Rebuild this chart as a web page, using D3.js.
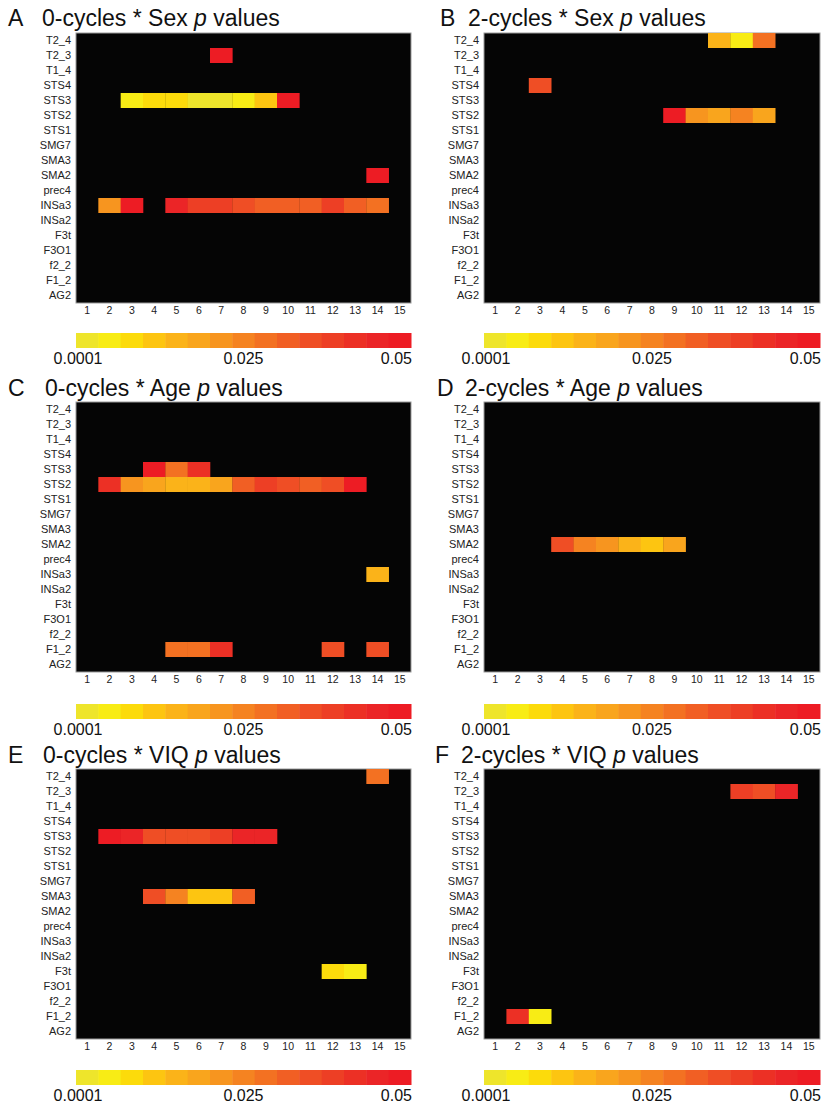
<!DOCTYPE html>
<html><head><meta charset="utf-8">
<script src="https://cdn.jsdelivr.net/npm/d3@7"></script>
<style>
html,body{margin:0;padding:0;background:#fff;}
svg{display:block;font-family:"Liberation Sans",Arial,sans-serif;}
</style>
</head><body>
<svg id="chart" width="824" height="1105"></svg>
<script>
// ---- data ----
const regions = ["T2_4","T2_3","T1_4","STS4","STS3","STS2","STS1","SMG7","SMA3","SMA2","prec4","INSa3","INSa2","F3t","F3O1","f2_2","F1_2","AG2"];
const cycles = [1,2,3,4,5,6,7,8,9,10,11,12,13,14,15];
const pDomain = [0.0001, 0.05];
const colorbarLabels = ["0.0001","0.025","0.05"];
const stepColors = ["#eee52b","#f8ec15","#fcdb0b","#fdc511","#fbb319","#f9a51d","#f7951f","#f58321","#f37122","#f15f24","#ef4e25","#ed3f25","#ec3025","#eb2527","#ed1c24"];

// cells: [region, cycle, p]
const sex0 = [
  ["T2_3",7,0.048],
  ["STS3",3,0.006],["STS3",4,0.008],["STS3",5,0.008],["STS3",6,0.002],["STS3",7,0.002],["STS3",8,0.005],["STS3",9,0.012],["STS3",10,0.048],
  ["SMA2",14,0.048],
  ["INSa3",2,0.022],["INSa3",3,0.048],["INSa3",5,0.046],["INSa3",6,0.039],["INSa3",7,0.038],["INSa3",8,0.035],["INSa3",9,0.032],["INSa3",10,0.031],["INSa3",11,0.032],["INSa3",12,0.039],["INSa3",13,0.032],["INSa3",14,0.030]
];
const sex2 = [
  ["T2_4",11,0.015],["T2_4",12,0.005],["T2_4",13,0.029],
  ["STS4",3,0.035],
  ["STS2",9,0.048],["STS2",10,0.022],["STS2",11,0.019],["STS2",12,0.025],["STS2",13,0.018]
];
const age0 = [
  ["STS3",4,0.048],["STS3",5,0.029],["STS3",6,0.041],
  ["STS2",2,0.042],["STS2",3,0.022],["STS2",4,0.019],["STS2",5,0.015],["STS2",6,0.015],["STS2",7,0.019],["STS2",8,0.032],["STS2",9,0.038],["STS2",10,0.035],["STS2",11,0.032],["STS2",12,0.035],["STS2",13,0.048],
  ["INSa3",14,0.015],
  ["F1_2",5,0.028],["F1_2",6,0.028],["F1_2",7,0.042],["F1_2",12,0.035],["F1_2",14,0.035]
];
const age2 = [
  ["SMA2",4,0.035],["SMA2",5,0.025],["SMA2",6,0.022],["SMA2",7,0.015],["SMA2",8,0.012],["SMA2",9,0.018]
];
const viq0 = [
  ["T2_4",14,0.028],
  ["STS3",2,0.048],["STS3",3,0.044],["STS3",4,0.035],["STS3",5,0.035],["STS3",6,0.035],["STS3",7,0.038],["STS3",8,0.045],["STS3",9,0.045],
  ["SMA3",4,0.035],["SMA3",5,0.025],["SMA3",6,0.012],["SMA3",7,0.012],["SMA3",8,0.032],
  ["F3t",12,0.008],["F3t",13,0.005]
];
const viq2 = [
  ["T2_3",12,0.039],["T2_3",13,0.035],["T2_3",14,0.045],
  ["F1_2",2,0.042],["F1_2",3,0.005]
];

const panelLetters = ["A","B","C","D","E","F"];
const panelCycles = ["0-cycles","2-cycles","0-cycles","2-cycles","0-cycles","2-cycles"];
const panelFactors = ["Sex","Sex","Age","Age","VIQ","VIQ"];
const panelData = [sex0, sex2, age0, age2, viq0, viq2];

// ---- layout ----
const colX = [[76,411],[484,820]];
const rowTop = [33,402,769];
const titleBase = [25.5,396,762.5];
const letterX = [[8,440],[8,437],[8,435]];
const textX = [[42,468],[45,465],[43,461]];
const mapH = 270;
const cbGap = [30,32,31];
const FONT = '"Liberation Sans",Arial,sans-serif';

const svg = d3.select("#chart");
const color = d3.scaleQuantize().domain(pDomain).range(stepColors);

panelData.forEach((cells,i)=>{
  const r = Math.floor(i/2), c = i%2;
  const [x0,x1] = colX[c];
  const y0 = rowTop[r], y1 = y0 + mapH;
  const g = svg.append("g");

  // title
  g.append("text").attr("x", letterX[r][c]).attr("y", titleBase[r]).attr("font-size",23).attr("fill","#111").text(panelLetters[i]);
  const t2 = g.append("text").attr("x", textX[r][c]).attr("y", titleBase[r]).attr("font-size",23).attr("fill","#111");
  t2.append("tspan").text(panelCycles[i] + " * " + panelFactors[i] + " ");
  t2.append("tspan").attr("font-style","italic").text("p");
  t2.append("tspan").text(" values");

  const x = d3.scaleBand().domain(cycles).range([x0,x1]);
  const y = d3.scaleBand().domain(regions).range([y0,y1]);

  g.append("rect").attr("x",x0).attr("y",y0).attr("width",x1-x0).attr("height",y1-y0)
    .attr("fill","#050505").attr("stroke","#9a9a9a").attr("stroke-width",1);

  g.selectAll("rect.cell").data(cells).join("rect").attr("class","cell")
    .attr("x",d=>x(d[1])).attr("y",d=>y(d[0]))
    .attr("width",x.bandwidth()+0.3).attr("height",y.bandwidth())
    .attr("fill",d=>color(d[2]));

  const ay = g.append("g").attr("transform",`translate(${x0},0)`)
    .call(d3.axisLeft(y).tickSize(0).tickPadding(5))
    .attr("font-family",FONT).attr("font-size",11);
  ay.select(".domain").remove();
  ay.selectAll("text").attr("fill","#222");

  const ax = g.append("g").attr("transform",`translate(0,${y1})`)
    .call(d3.axisBottom(x).tickSize(0).tickPadding(4))
    .attr("font-family",FONT).attr("font-size",10.5);
  ax.select(".domain").remove();
  ax.selectAll("text").attr("fill","#222");

  // colorbar
  const cbY = y1 + cbGap[r];
  const cb = d3.scaleBand().domain(d3.range(stepColors.length)).range([x0,x1]);
  g.selectAll("rect.cb").data(stepColors).join("rect").attr("class","cb")
    .attr("x",(d,k)=>cb(k)).attr("y",cbY).attr("width",cb.bandwidth()+0.5).attr("height",15)
    .attr("fill",d=>d);
  const lx = [x0+2, (x0+x1)/2, x1+1];
  const anchors = ["middle","middle","end"];
  colorbarLabels.forEach((lab,k)=>{
    g.append("text").attr("x",lx[k]).attr("y",cbY+31).attr("font-size",16)
      .attr("text-anchor",anchors[k]).attr("fill","#111").text(lab);
  });
});
</script>
</body></html>
